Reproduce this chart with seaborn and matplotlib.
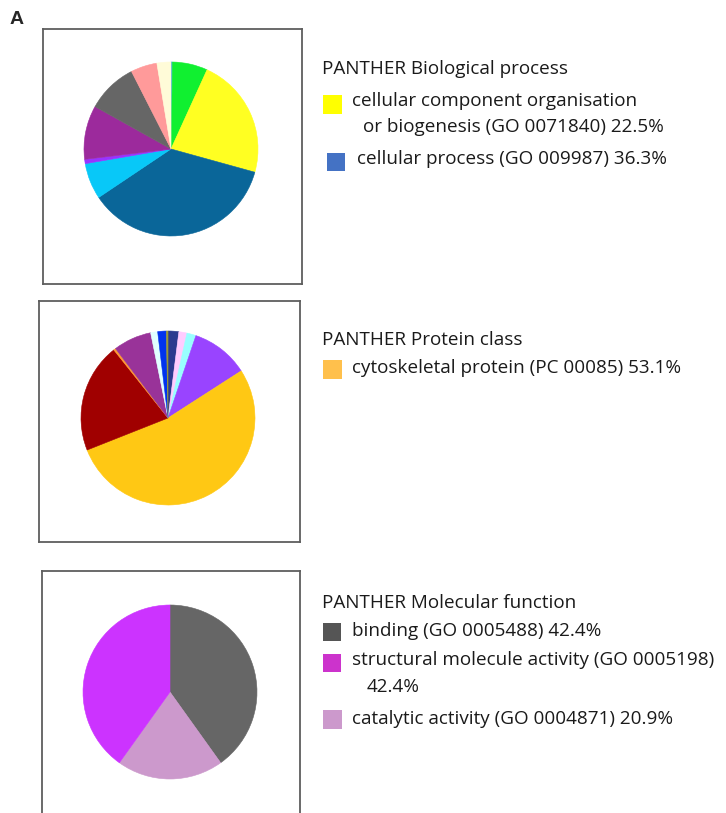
import matplotlib
matplotlib.use("Agg")
import matplotlib.pyplot as plt
from matplotlib.patches import Rectangle
import seaborn as sns

sns.set_theme(style="white")
plt.rcParams["font.family"] = ["Open Sans", "DejaVu Sans"]

W, H = 726, 813

# ---- PANTHER Biological process (clockwise from 12 o'clock) ----
bio_shares = [0.3, 6.5, 22.5, 36.3, 6.7, 0.8, 10.0, 9.4, 4.9, 2.6]
bio_colors = ["#33b0c8", "#10f030", "#ffff22", "#0a6699", "#08c8f8",
              "#9933ff", "#9c2a9c", "#666666", "#ff9a9a", "#fffbd8"]
bio_title = "PANTHER Biological process"
bio_legend_lines = ["cellular component organisation",
                    "or biogenesis (GO 0071840) 22.5%",
                    "cellular process (GO 009987) 36.3%"]
bio_legend_colors = ["#ffff00", "#4472c4"]

# ---- PANTHER Protein class ----
prot_shares = [2.0, 1.5, 1.7, 10.7, 53.1, 20.3, 0.4, 7.1, 1.3, 1.6, 0.3]
prot_colors = ["#2b3a8f", "#ffccff", "#99ffff", "#9944ff", "#ffc814",
               "#a00000", "#ff9933", "#993399", "#e0ffff", "#0033ee", "#999933"]
prot_title = "PANTHER Protein class"
prot_legend_lines = ["cytoskeletal protein (PC 00085) 53.1%"]
prot_legend_colors = ["#ffc04c"]

# ---- PANTHER Molecular function ----
mol_labels = ["binding (GO 0005488)", "catalytic activity (GO 0004871)",
              "structural molecule activity (GO 0005198)"]
mol_values = [42.4, 20.9, 42.4]
mol_colors = ["#666666", "#cc99cc", "#cc33ff"]
mol_title = "PANTHER Molecular function"
mol_legend_lines = ["binding (GO 0005488) 42.4%",
                    "structural molecule activity (GO 0005198)",
                    "42.4%",
                    "catalytic activity (GO 0004871) 20.9%"]
mol_legend_colors = ["#555555", "#cc33cc", "#cc99cc"]

fig = plt.figure(figsize=(W / 100, H / 100), dpi=100)
fig.patch.set_facecolor("white")


def px_rect(x0, y0, x1, y1):
    return [x0 / W, 1 - y1 / H, (x1 - x0) / W, (y1 - y0) / H]


def frame(x0, y0, x1, y1):
    ax = fig.add_axes(px_rect(x0, y0, x1, y1))
    ax.set_xticks([])
    ax.set_yticks([])
    ax.patch.set_alpha(0)
    for s in ax.spines.values():
        s.set_visible(True)
        s.set_color("#5e5e5e")
        s.set_linewidth(1.3)
    return ax


def pie(cx, cy, r, values, colors):
    ax = fig.add_axes(px_rect(cx - r, cy - r, cx + r, cy + r))
    wedges, _ = ax.pie(values, colors=colors, startangle=90, counterclock=False,
                       radius=1, wedgeprops=dict(linewidth=0.4))
    for w, c in zip(wedges, colors):
        w.set_edgecolor(c)
    ax.set_xlim(-1, 1)
    ax.set_ylim(-1, 1)
    ax.set_aspect("equal")
    ax.axis("off")
    return ax


def txt(x, y, s, **kw):
    fig.text(x / W, 1 - y / H, s, va="center", ha="left", fontsize=13.6,
             color="#1a1a1a", **kw)


def square(x0, y0, size, color):
    fig.add_artist(Rectangle((x0 / W, 1 - (y0 + size) / H), size / W, size / H,
                             transform=fig.transFigure, facecolor=color,
                             edgecolor="none"))


# panel letter
fig.text(10 / W, 1 - 19 / H, "A", fontsize=14, fontweight="bold",
         family=["Liberation Sans", "DejaVu Sans"], va="center", ha="left")

# frames
frame(43, 29, 302, 284)
frame(39, 301, 300, 542)
frame(42, 571, 300, 830)

# pies
pie(171, 149, 87, bio_shares, bio_colors)
pie(168, 418, 87, prot_shares, prot_colors)
pie(170, 692, 87, mol_values, mol_colors)

# biological process legend
txt(322, 69, bio_title)
square(323, 95, 19, bio_legend_colors[0])
txt(352, 101, bio_legend_lines[0])
txt(363, 127, bio_legend_lines[1])
square(327, 153, 18, bio_legend_colors[1])
txt(357, 159, bio_legend_lines[2])

# protein class legend
txt(322, 340, prot_title)
square(323, 360, 19, prot_legend_colors[0])
txt(352, 368, prot_legend_lines[0])

# molecular function legend
txt(322, 603, mol_title)
square(323, 623, 18, mol_legend_colors[0])
txt(352, 631, mol_legend_lines[0])
square(323, 654, 18, mol_legend_colors[1])
txt(352, 660, mol_legend_lines[1])
txt(367, 687, mol_legend_lines[2])
square(323, 710, 19, mol_legend_colors[2])
txt(352, 719, mol_legend_lines[3])

fig.savefig("out.png", dpi=100, facecolor="white")
